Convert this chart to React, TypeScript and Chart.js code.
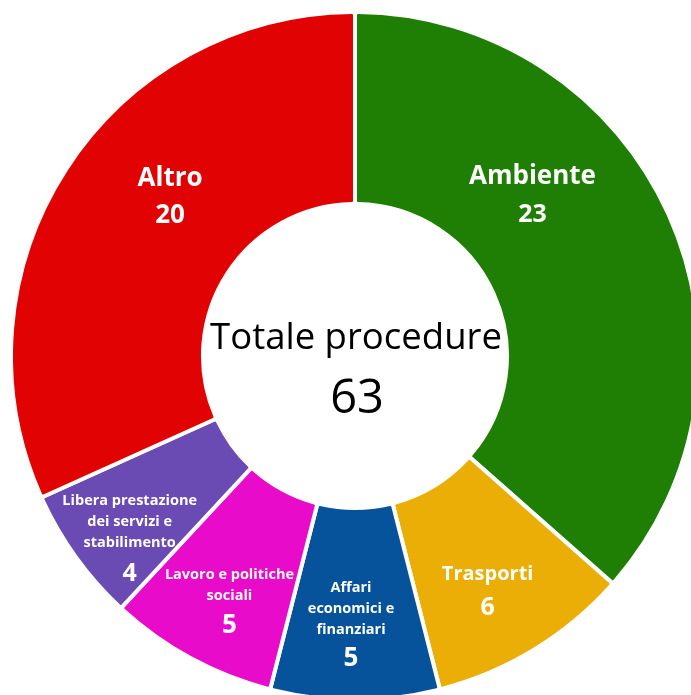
import React, { useEffect, useRef } from "react";
import { Chart, registerables } from "chart.js";

Chart.register(...registerables);

const categories = [
  "Ambiente",
  "Trasporti",
  "Affari economici e finanziari",
  "Lavoro e politiche sociali",
  "Libera prestazione dei servizi e stabilimento",
  "Altro",
];
const labelLines = [
  ["Ambiente"],
  ["Trasporti"],
  ["Affari", "economici e", "finanziari"],
  ["Lavoro e politiche", "sociali"],
  ["Libera prestazione", "dei servizi e", "stabilimento"],
  ["Altro"],
];
const values = [23, 6, 5, 5, 4, 20];
const colors = ["#1f7e04", "#ebae07", "#06539c", "#e80bc9", "#6a4ab3", "#e10303"];
const centerTitle = "Totale procedure";

// label placement inside each arc (fractions of the arc's angle / ring thickness)
const labelStyles = [
  { angleFrac: 0.361, radiusFrac: 0.463, nameSize: 26, numSize: 25, lineH: 21, gap: 38 },
  { angleFrac: 0.55, radiusFrac: 0.602, nameSize: 20, numSize: 25, lineH: 21, gap: 34 },
  { angleFrac: 0.53, radiusFrac: 0.588, nameSize: 14.5, numSize: 26, lineH: 21, gap: 29 },
  { angleFrac: 0.46, radiusFrac: 0.628, nameSize: 14.5, numSize: 26, lineH: 21, gap: 30 },
  { angleFrac: 0.38, radiusFrac: 0.707, nameSize: 14.5, numSize: 25, lineH: 21, gap: 31 },
  { angleFrac: 0.572, radiusFrac: 0.486, nameSize: 26, numSize: 26, lineH: 21, gap: 37.5 },
];

const FONT = "'Open Sans', 'Noto Sans', sans-serif";
const TEXT_SHIFT = 2.5;

const labelPlugin = {
  id: "arcLabels",
  afterDatasetsDraw(chart: any) {
    const ctx = chart.ctx;
    const meta = chart.getDatasetMeta(0);
    const data = chart.data.datasets[0].data as number[];
    ctx.save();
    ctx.fillStyle = "#ffffff";
    ctx.textAlign = "center";
    ctx.textBaseline = "middle";
    meta.data.forEach((arc: any, i: number) => {
      const p = arc.getProps(["x", "y", "startAngle", "endAngle", "innerRadius", "outerRadius"], true);
      const st = labelStyles[i];
      const ang = p.startAngle + (p.endAngle - p.startAngle) * st.angleFrac;
      const r = p.innerRadius + (p.outerRadius - p.innerRadius) * st.radiusFrac;
      const ax = p.x + Math.cos(ang) * r;
      const ay = p.y + Math.sin(ang) * r + TEXT_SHIFT;
      const lines = labelLines[i];
      const blockH = (lines.length - 1) * st.lineH + st.gap;
      let y = ay - blockH / 2;
      ctx.font = `bold ${st.nameSize}px ${FONT}`;
      lines.forEach((ln) => {
        ctx.fillText(ln, ax, y);
        y += st.lineH;
      });
      y = y - st.lineH + st.gap;
      ctx.font = `bold ${st.numSize}px ${FONT}`;
      ctx.fillText(String(data[i]), ax, y);
    });
    // centre text
    const first = meta.data[0] as any;
    const c = first.getProps(["x", "y"], true);
    const total = data.reduce((a, b) => a + b, 0);
    ctx.fillStyle = "#000000";
    ctx.font = `36.5px ${FONT}`;
    ctx.fillText(centerTitle, c.x + 1, c.y - 20 + TEXT_SHIFT);
    ctx.font = `47px ${FONT}`;
    ctx.fillText(String(total), c.x + 2, c.y + 41 + TEXT_SHIFT);
    ctx.restore();
  },
};

export default function App() {
  const ref = useRef<HTMLCanvasElement | null>(null);
  useEffect(() => {
    if (!ref.current) return;
    const chart = new Chart(ref.current, {
      type: "doughnut",
      data: {
        labels: categories,
        datasets: [
          {
            data: values,
            backgroundColor: colors,
            borderColor: "#ffffff",
            borderWidth: 4,
            borderRadius: 3,
            borderJoinStyle: "round",
          } as any,
        ],
      },
      options: {
        animation: false,
        responsive: true,
        maintainAspectRatio: false,
        radius: 344,
        cutout: "44.19%",
        layout: { padding: 0 },
        plugins: {
          legend: { display: false },
          tooltip: { enabled: false },
        },
      } as any,
      plugins: [labelPlugin],
    });
    return () => chart.destroy();
  }, []);

  return (
    <div
      style={{
        position: "fixed",
        left: 0,
        top: 0,
        width: 691,
        height: 695,
        overflow: "hidden",
        background: "#ffffff",
      }}
    >
      <div style={{ position: "absolute", left: 13, top: 14, width: 684, height: 684 }}>
        <canvas ref={ref} />
      </div>
    </div>
  );
}
